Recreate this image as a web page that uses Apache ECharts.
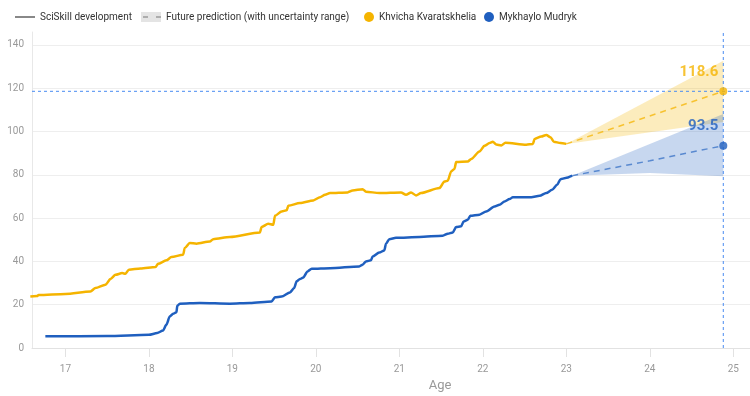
<!DOCTYPE html>
<html>
<head>
<meta charset="utf-8">
<script src="https://cdn.jsdelivr.net/npm/echarts@6/dist/echarts.min.js"></script>
<style>
html, body { margin: 0; padding: 0; background: #fff; }
#main { width: 750px; height: 396px; }
</style>
</head>
<body>
<div id="main"></div>
<script>
// SciSkill history
var kvaraAges = [16.58, 16.66, 16.68, 17.0, 17.3, 17.36, 17.48, 17.54, 17.6, 17.68, 17.72, 17.76, 17.9, 18.08, 18.11,
    18.21, 18.27, 18.41, 18.43, 18.49, 18.57, 18.73, 18.77, 18.97, 19.33, 19.35, 19.43, 19.49, 19.51, 19.59,
    19.65, 19.67, 19.81, 19.97, 20.05, 20.11, 20.17, 20.38, 20.44, 20.56, 20.6, 20.76, 21.02, 21.08, 21.14,
    21.2, 21.26, 21.48, 21.54, 21.58, 21.62, 21.66, 21.68, 21.82, 21.86, 21.96, 22.02, 22.08, 22.12, 22.16,
    22.22, 22.27, 22.52, 22.6, 22.62, 22.7, 22.76, 22.81, 22.85, 22.93, 23.0];
var kvaraSkill = [23.8, 24.0, 24.5, 25.0, 26.1, 27.7, 29.2, 31.9, 33.8, 34.6, 34.3, 36.2, 36.7, 37.4, 38.9,
    40.5, 42.0, 43.1, 46.2, 48.5, 48.2, 49.2, 50.3, 51.3, 53.4, 55.9, 57.4, 56.9, 61.1, 63.1,
    63.6, 65.7, 67.0, 68.2, 69.7, 70.8, 71.6, 71.9, 72.8, 73.4, 72.2, 71.6, 71.9, 70.8, 71.9,
    70.5, 71.6, 73.9, 76.9, 77.3, 81.6, 82.7, 85.9, 86.2, 87.3, 90.8, 93.4, 94.7, 95.3, 94.0,
    93.6, 94.8, 93.9, 94.3, 96.6, 97.7, 98.4, 97.4, 95.3, 94.7, 94.3];

var mudrykAges = [16.76, 17.5, 18.0, 18.1, 18.17, 18.21, 18.25, 18.29, 18.33, 18.34, 18.37, 18.61, 18.97, 19.21,
    19.47, 19.51, 19.59, 19.69, 19.74, 19.77, 19.81, 19.85, 19.9, 19.95, 20.17, 20.52, 20.56, 20.6, 20.66,
    20.68, 20.76, 20.82, 20.84, 20.88, 20.96, 21.24, 21.52, 21.58, 21.64, 21.68, 21.74, 21.77, 21.82, 21.85,
    21.96, 22.04, 22.14, 22.2, 22.26, 22.32, 22.36, 22.58, 22.68, 22.76, 22.83, 22.89, 22.93, 22.99, 23.07];
var mudrykSkill = [5.4, 5.5, 6.1, 6.9, 8.1, 10.8, 14.6, 15.8, 16.5, 19.5, 20.5, 20.8, 20.5, 20.8,
    21.5, 23.4, 23.8, 25.7, 27.7, 30.8, 31.9, 32.6, 35.4, 36.6, 36.9, 37.7, 38.5, 40.0, 40.5,
    42.3, 44.1, 45.1, 48.2, 50.3, 50.9, 51.3, 51.9, 52.8, 53.4, 55.9, 56.2, 58.5, 59.2, 61.1,
    61.6, 63.1, 65.4, 66.2, 67.7, 68.8, 69.7, 69.7, 70.3, 71.6, 73.1, 75.4, 78.0, 78.5, 79.6];

// predictions with uncertainty range
var kvaraPredAges = [23.0, 24.88];
var kvaraPredMid = [94.3, 118.6];
var kvaraPredLow = [94.3, 104.4];
var kvaraPredHigh = [94.3, 132.7];

var mudrykPredAges = [23.07, 24.0, 24.88];
var mudrykPredMid = [79.6, 86.5, 93.5];
var mudrykPredLow = [79.6, 80.8, 79.3];
var mudrykPredHigh = [79.6, 94.2, 108.1];

var ageTicks = [17, 18, 19, 20, 21, 22, 23, 24, 25];
var ageMin = 16.6;
var ageMax = 25.2;
var skillMin = 0;
var skillMax = 146;

var YELLOW = '#F5B400';
var BLUE = '#1F5FBF';
var MARK = '#4a8cf2';
var FONT = "Roboto, 'Noto Sans', sans-serif";

function pairs(xs, ys) {
    var out = [];
    for (var i = 0; i < xs.length; i++) {
        out.push([xs[i], ys[i]]);
    }
    return out;
}

var last = function (arr) { return arr[arr.length - 1]; };

// band polygon: upper edge left->right, lower edge back
function bandSeries(name, ages, low, high, fill) {
    return {
        name: name,
        type: 'custom',
        silent: true,
        z: 1,
        data: pairs(ages, low),
        renderItem: function (params, api) {
            if (params.dataIndex !== 0) {
                return null;
            }
            var pts = [];
            for (var i = 0; i < ages.length; i++) {
                pts.push(api.coord([ages[i], high[i]]));
            }
            for (var j = ages.length - 1; j >= 0; j--) {
                pts.push(api.coord([ages[j], low[j]]));
            }
            return { type: 'polygon', shape: { points: pts }, style: { fill: fill } };
        }
    };
}

// dotted guide line through the predicted point
function guideSeries(points) {
    return {
        type: 'line',
        silent: true,
        showSymbol: false,
        z: 2,
        lineStyle: { color: MARK, width: 1, type: [3, 3] },
        data: points
    };
}

// one legend block per entry so each sits where the original puts it
function legendAt(left, size, item) {
    return {
        left: left,
        top: 7,
        itemWidth: size[0],
        itemHeight: size[1],
        selectedMode: false,
        textStyle: { color: '#333', fontSize: 10, fontFamily: FONT },
        data: [item]
    };
}

var dashIcon = 'image://data:image/svg+xml;utf8,' + encodeURIComponent(
    "<svg xmlns='http://www.w3.org/2000/svg' width='20' height='10'>" +
    "<rect width='20' height='10' fill='#e4e4e4'/>" +
    "<line x1='2' y1='5' x2='20' y2='5' stroke='#9a9a9a' stroke-width='1.5' stroke-dasharray='5,8'/></svg>");

var myChart = echarts.init(document.getElementById('main'));

myChart.setOption({
    backgroundColor: '#fff',
    animation: false,
    textStyle: { fontFamily: FONT },
    legend: [
        legendAt(10, [20, 10], { name: 'SciSkill development', icon: 'path://M0,0H20V2H0Z', itemStyle: { color: '#888', borderWidth: 0 } }),
        legendAt(136, [20, 10], { name: 'Future prediction (with uncertainty range)', icon: dashIcon }),
        legendAt(359, [10, 10], { name: 'Khvicha Kvaratskhelia', icon: 'circle', itemStyle: { color: YELLOW, borderWidth: 0 } }),
        legendAt(479, [10, 10], { name: 'Mykhaylo Mudryk', icon: 'circle', itemStyle: { color: BLUE, borderWidth: 0 } })
    ],
    grid: { left: 32, right: 0, top: 32, bottom: 48, outerBoundsMode: 'none' },
    xAxis: {
        type: 'value',
        min: ageMin,
        max: ageMax,
        name: 'Age',
        nameLocation: 'middle',
        nameGap: 31,
        nameTextStyle: { color: '#999', fontSize: 13, fontFamily: FONT, padding: [0, 0, 0, 98] },
        axisLine: { show: true, lineStyle: { color: '#e2e2e2' } },
        axisTick: { show: true, length: 9, customValues: ageTicks, lineStyle: { color: '#e2e2e2' } },
        axisLabel: { customValues: ageTicks, color: '#999', fontSize: 10, margin: 16 },
        splitLine: { show: false }
    },
    yAxis: {
        type: 'value',
        min: skillMin,
        max: skillMax,
        interval: 20,
        axisLine: { show: true, lineStyle: { color: '#e8e8e8' } },
        axisTick: { show: false },
        axisLabel: { color: '#999', fontSize: 10, margin: 8, showMaxLabel: false },
        splitLine: { show: true, showMaxLine: false, lineStyle: { color: '#eeeeee' } }
    },
    series: [
        { name: 'SciSkill development', type: 'line', data: [] },
        { name: 'Future prediction (with uncertainty range)', type: 'line', data: [] },
        // uncertainty bands
        bandSeries('Khvicha Kvaratskhelia', kvaraPredAges, kvaraPredLow, kvaraPredHigh, 'rgba(245,180,0,0.26)'),
        bandSeries('Mykhaylo Mudryk', mudrykPredAges, mudrykPredLow, mudrykPredHigh, 'rgba(31,95,191,0.25)'),
        // guides at the prediction date / predicted value
        guideSeries([[ageMin, last(kvaraPredMid)], [ageMax, last(kvaraPredMid)]]),
        guideSeries([[last(kvaraPredAges), skillMin], [last(kvaraPredAges), skillMax]]),
        // history
        {
            name: 'Khvicha Kvaratskhelia', type: 'line', showSymbol: false, smooth: 0.25, smoothMonotone: 'x',
            color: YELLOW, lineStyle: { width: 2.5, color: YELLOW },
            data: pairs(kvaraAges, kvaraSkill), z: 3
        },
        {
            name: 'Mykhaylo Mudryk', type: 'line', showSymbol: false, smooth: 0.25, smoothMonotone: 'x',
            color: BLUE, lineStyle: { width: 2.5, color: BLUE },
            data: pairs(mudrykAges, mudrykSkill), z: 3
        },
        // predicted paths
        {
            name: 'Khvicha Kvaratskhelia', type: 'line', showSymbol: false,
            lineStyle: { width: 1.5, color: YELLOW, opacity: 0.75, type: [6, 5] },
            data: pairs(kvaraPredAges, kvaraPredMid), z: 2
        },
        {
            name: 'Mykhaylo Mudryk', type: 'line', showSymbol: false,
            lineStyle: { width: 1.5, color: BLUE, opacity: 0.65, type: [6, 5] },
            data: pairs(mudrykPredAges, mudrykPredMid), z: 2
        },
        // predicted end points
        {
            name: 'Khvicha Kvaratskhelia', type: 'scatter', symbolSize: 8, color: YELLOW, z: 4,
            data: [[last(kvaraPredAges), last(kvaraPredMid)]],
            label: {
                show: true, position: 'top', align: 'right', distance: 8, offset: [-5, 0],
                color: YELLOW, fontSize: 15, fontWeight: 'bold', fontFamily: FONT,
                formatter: function (p) { return p.value[1].toFixed(1); }
            }
        },
        {
            name: 'Mykhaylo Mudryk', type: 'scatter', symbolSize: 8, color: BLUE, z: 4,
            data: [[last(mudrykPredAges), last(mudrykPredMid)]],
            label: {
                show: true, position: 'top', align: 'right', distance: 8, offset: [-5, 0],
                color: BLUE, fontSize: 15, fontWeight: 'bold', fontFamily: FONT,
                formatter: function (p) { return p.value[1].toFixed(1); }
            }
        }
    ]
});
</script>
</body>
</html>
